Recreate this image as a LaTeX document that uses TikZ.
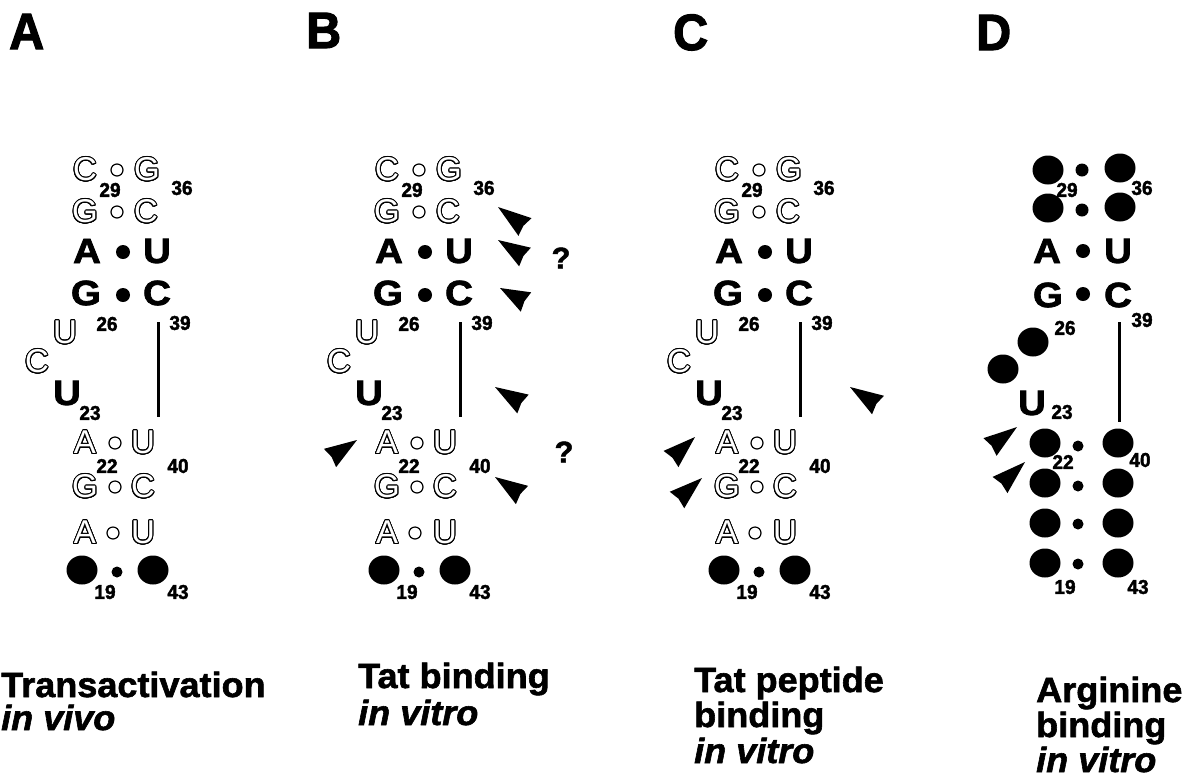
\documentclass[tikz,border=0pt]{standalone}
\usepackage{fontspec}
\setmainfont{Liberation Sans}
\newfontfamily\letfont{Liberation Sans}[BoldFeatures={FakeBold=2.2,FakeStretch=1.1}]
\newfontfamily\labfont{Liberation Sans}[BoldFeatures={FakeBold=1.7,FakeStretch=1.03},BoldItalicFeatures={FakeBold=1.7,FakeStretch=1.03}]
\newfontfamily\numfont{Liberation Sans}[BoldFeatures={FakeBold=2,FakeStretch=0.95}]
\newfontfamily\ttlfont{Liberation Sans}[BoldFeatures={FakeBold=2.2,FakeStretch=0.95}]
\usepackage{contour}
\contourlength{1.0pt}
\contournumber{24}
\usetikzlibrary{calc,shapes.geometric}
\tikzset{
  bl/.style={inner sep=0pt, font=\letfont\fontsize{35}{35}\selectfont\bfseries},
  ol/.style={inner sep=0pt, font=\fontsize{33}{33}\selectfont, text=white},
  num/.style={inner sep=0pt, font=\numfont\fontsize{20}{20}\selectfont\bfseries},
  ttl/.style={inner sep=0pt, anchor=base west, font=\ttlfont\fontsize{51}{51}\selectfont\bfseries},
  lab/.style={inner sep=0pt, anchor=base west, font=\labfont\fontsize{35}{35}\selectfont\bfseries},
  labi/.style={lab, font=\labfont\fontsize{35}{35}\selectfont\bfseries\itshape},
  opair/.style={draw, line width=1.2pt, circle, inner sep=0pt, minimum size=12pt},
  fpair/.style={fill, circle, inner sep=0pt, minimum size=14pt},
  spair/.style={fill, circle, inner sep=0pt, minimum size=11pt},
  bigdot/.style={fill, ellipse, inner sep=0pt, minimum width=31pt, minimum height=29pt},
  stemline/.style={line width=3pt},
  qm/.style={inner sep=0pt, font=\labfont\fontsize{30}{30}\selectfont\bfseries}
}
\newcommand{\olt}[1]{\contour{black}{#1}}
\newcommand{\dart}[2]{\fill ($(#2)!11pt!90:(#1)$) -- (#1) -- ($(#2)!11pt!-90:(#1)$) -- ($(#2)!0.06!(#1)$) -- cycle;}
\newcommand{\stemAC}{%
  \node[ol] (c29) at (85,170) {\olt{C}};
  \node[opair] (p29) at (117,170) {};
  \node[ol] (g36) at (147,170) {\olt{G}};
  \node[num] (n29) at (110,190) {29};
  \node[num] (n36) at (182,188) {36};
  \node[ol] (g28) at (85,212) {\olt{G}};
  \node[opair] (p28) at (117,212) {};
  \node[ol] (c37) at (146,212) {\olt{C}};
  \node[bl] (a27) at (87,251) {A};
  \node[fpair] (p27) at (123,252) {};
  \node[bl] (u38) at (157,251) {U};
  \node[bl] (g26) at (86,293) {G};
  \node[fpair] (p26) at (123,295) {};
  \node[bl] (c39) at (157,293) {C};
  \node[num] (n26) at (107,324) {26};
  \node[num] (n39) at (180,323) {39};
  \node[ol] (u25) at (65,333) {\olt{U}};
  \node[ol] (c24) at (37,362) {\olt{C}};
  \node[bl] (u23) at (67,393) {U};
  \node[num] (n23) at (90,413) {23};
  \coordinate (l1) at (158,322);
  \coordinate (l2) at (158,417);
  \draw[stemline] (l1) -- (l2);
  \node[ol] (a22) at (85,443) {\olt{A}};
  \node[opair] (p22) at (115,443) {};
  \node[ol] (u40) at (143,443) {\olt{U}};
  \node[num] (n22) at (107,466) {22};
  \node[num] (n40) at (178,466) {40};
  \node[ol] (g21) at (85,487) {\olt{G}};
  \node[opair] (p21) at (115,487) {};
  \node[ol] (c41) at (143,487) {\olt{C}};
  \node[ol] (a20) at (85,533) {\olt{A}};
  \node[opair] (p20) at (113,533) {};
  \node[ol] (u42) at (143,533) {\olt{U}};
  \node[bigdot] (d19) at (82,570) {};
  \node[spair] (p19) at (117,572) {};
  \node[bigdot] (d43) at (153,570) {};
  \node[num] (n19) at (105,592) {19};
  \node[num] (n43) at (178,592) {43};
}
\begin{document}
\begin{tikzpicture}[x=1pt,y=-1pt]
\useasboundingbox (0,0) rectangle (1188,780);
% titles
\node[ttl] (tA) at (9,49) {A};
\node[ttl] (tB) at (306,48) {B};
\node[ttl] (tC) at (673,50) {C};
\node[ttl] (tD) at (976,50) {D};
% panels A-C
\begin{scope}[name prefix=A-]
  \stemAC
\end{scope}
\begin{scope}[name prefix=B-, xshift=302pt]
  \stemAC
\end{scope}
\begin{scope}[name prefix=C-, xshift=642pt]
  \stemAC
\end{scope}
% panel D
\node[bigdot] (D-d29) at (1048,170) {};
\node[spair, minimum size=13pt] (D-p29) at (1082,170) {};
\node[bigdot] (D-d36) at (1120,168) {};
\node[num] (D-n29) at (1067,190) {29};
\node[num] (D-n36) at (1142,188) {36};
\node[bigdot] (D-d28) at (1048,208) {};
\node[spair, minimum size=13pt] (D-p28) at (1082,210) {};
\node[bigdot] (D-d37) at (1120,207) {};
\node[bl] (D-a27) at (1047,251) {A};
\node[fpair] (D-p27) at (1083,251) {};
\node[bl] (D-u38) at (1118,251) {U};
\node[bl] (D-g26) at (1048,295) {G};
\node[fpair] (D-p26) at (1083,294) {};
\node[bl] (D-c39) at (1118,295) {C};
\node[num] (D-n26) at (1065,328) {26};
\node[num] (D-n39) at (1142,320) {39};
\node[bigdot] (D-d25) at (1033,342) {};
\node[bigdot] (D-d24) at (1003,369) {};
\node[bl] (D-u23) at (1032,403) {U};
\node[num] (D-n23) at (1062,412) {23};
\coordinate (D-l1) at (1119,322);
\coordinate (D-l2) at (1119,422);
\draw[stemline] (D-l1) -- (D-l2);
\node[bigdot] (D-d22) at (1045,443) {};
\node[spair] (D-p22) at (1078,446) {};
\node[bigdot] (D-d40) at (1118,443) {};
\node[num] (D-n22) at (1063,462) {22};
\node[num] (D-n40) at (1140,460) {40};
\node[bigdot] (D-d21) at (1045,483) {};
\node[spair] (D-p21) at (1078,486) {};
\node[bigdot] (D-d41) at (1118,483) {};
\node[bigdot] (D-d20) at (1045,523) {};
\node[spair] (D-p20) at (1078,524) {};
\node[bigdot] (D-d42) at (1118,523) {};
\node[bigdot] (D-d19) at (1045,563) {};
\node[spair] (D-p19) at (1078,564) {};
\node[bigdot] (D-d43) at (1118,563) {};
\node[num] (D-n19) at (1065,587) {19};
\node[num] (D-n43) at (1138,587) {43};
% arrowheads B
\dart{498,207}{525,227}
\dart{498,240}{525,257}
\dart{500,288}{526,302}
\dart{495,387}{523,404}
\dart{357,440}{330,458}
\dart{495,477}{522,495}
\node[qm] (B-q1) at (561,258) {?};
\node[qm] (B-q2) at (564,452) {?};
% arrowheads C
\dart{850,387}{878,405}
\dart{695,437}{671,459}
\dart{702,478}{677,500}
% arrowheads D
\dart{1017,427}{990,447}
\dart{1025,462}{1000,485}
% labels
\node[lab] (LA1) at (1,697) {Transactivation};
\node[labi] (LA2) at (1,730) {in vivo};
\node[lab] (LB1) at (358,688) {Tat binding};
\node[labi] (LB2) at (358,725) {in vitro};
\node[lab] (LC1) at (694,692) {Tat peptide};
\node[lab] (LC2) at (694,727) {binding};
\node[labi] (LC3) at (694,763) {in vitro};
\node[lab] (LD1) at (1036,702) {Arginine};
\node[lab] (LD2) at (1036,737) {binding};
\node[labi] (LD3) at (1036,772) {in vitro};
\end{tikzpicture}
\end{document}
